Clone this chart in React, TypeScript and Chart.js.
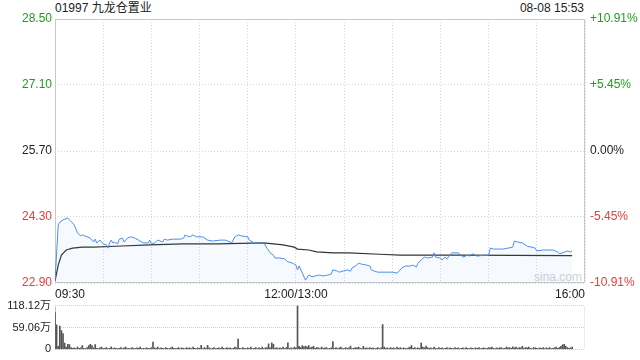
import React, { useEffect, useRef } from "react";
import { Chart, registerables } from "chart.js";

Chart.register(...registerables);

const titleText = "01997 九龙仓置业";
const stampText = "08-08 15:53";
const watermark = "sina.com";

const prevClose = 25.7;
const priceTicks = [22.9, 24.3, 25.7, 27.1, 28.5];
const pctLabels = ["-10.91%", "-5.45%", "0.00%", "+5.45%", "+10.91%"];

const gridMinutes = [0, 30, 60, 90, 120, 150, 180, 210, 240, 270, 300, 330];
const labelMinutes = [0, 150, 330];
const timeLabels = ["09:30", "12:00/13:00", "16:00"];

// minutes since 09:30 (13:00 continues at 150)
const priceMinutes = [
  0, 2, 3, 5, 8, 9, 11, 12, 14, 16, 17, 20, 22, 24, 25, 26, 28, 29, 30, 32, 33, 34, 35, 36, 37, 39,
  40, 42, 43, 45, 47, 50, 52, 55, 58, 59, 60, 62, 64, 67, 68, 70, 73, 78, 80, 81, 82, 84, 86, 88,
  92, 95, 98, 103, 106, 109, 110, 112, 114, 116, 120, 121, 123, 124, 130, 132, 134, 136, 137, 140,
  143, 145, 148, 150, 151, 152, 154, 156, 158, 160, 162, 164, 167, 170, 172, 173, 176, 177, 179,
  182, 184, 185, 187, 189, 191, 194, 196, 197, 199, 201, 205, 210, 213, 215, 216, 218, 221, 223,
  225, 226, 228, 230, 232, 235, 236, 237, 240, 241, 243, 244, 247, 251, 253, 254, 257, 258, 260,
  263, 267, 270, 271, 273, 276, 279, 282, 285, 286, 288, 291, 294, 297, 299, 300, 304, 310, 313,
  314, 316, 319, 321, 322,
];
const priceValues = [
  22.94, 24.13, 24.19, 24.24, 24.28, 24.24, 24.17, 24.13, 23.96, 23.9, 23.92, 23.88, 23.85, 23.77,
  23.83, 23.75, 23.81, 23.77, 23.73, 23.71, 23.64, 23.75, 23.81, 23.75, 23.77, 23.73, 23.83, 23.85,
  23.77, 23.85, 23.88, 23.85, 23.81, 23.75, 23.75, 23.81, 23.73, 23.75, 23.81, 23.77, 23.83, 23.81,
  23.83, 23.83, 23.85, 23.92, 23.9, 23.88, 23.92, 23.88, 23.88, 23.81, 23.79, 23.81, 23.81, 23.77,
  23.75, 23.88, 23.92, 23.9, 23.88, 23.81, 23.77, 23.75, 23.75, 23.64, 23.54, 23.49, 23.43, 23.43,
  23.41, 23.35, 23.32, 23.28, 23.18, 23.26, 23.11, 22.96, 23.07, 23.03, 23.05, 23.07, 23.05, 23.07,
  23.09, 23.18, 23.15, 23.13, 23.15, 23.18, 23.15, 23.22, 23.26, 23.32, 23.3, 23.28, 23.26, 23.18,
  23.15, 23.13, 23.13, 23.13, 23.11, 23.18, 23.22, 23.26, 23.26, 23.28, 23.24, 23.32, 23.39, 23.45,
  23.43, 23.45, 23.54, 23.45, 23.43, 23.39, 23.45, 23.41, 23.54, 23.54, 23.49, 23.45, 23.49, 23.47,
  23.52, 23.47, 23.49, 23.49, 23.64, 23.62, 23.62, 23.62, 23.64, 23.66, 23.79, 23.77, 23.75, 23.68,
  23.66, 23.64, 23.58, 23.6, 23.6, 23.56, 23.52, 23.54, 23.58, 23.56, 23.58,
];

const avgMinutes = [0, 2, 4, 7, 11, 17, 24, 38, 59, 80, 101, 130, 142, 149, 151, 158, 163, 173, 183, 202, 215, 250, 322];
const avgValues = [
  22.94, 23.28, 23.49, 23.6, 23.64, 23.66, 23.66, 23.68, 23.71, 23.73, 23.73, 23.75, 23.71, 23.66,
  23.62, 23.6, 23.56, 23.54, 23.54, 23.51, 23.49, 23.49, 23.48,
];

// volume per minute, in 万 shares (index = minute since 09:30)
const volumeValues = [
  99, 66, 8, 63, 51, 43, 17, 6, 14, 13, 5, 3, 4, 2, 6, 3, 4, 10, 3, 2,
  5, 10, 14, 10, 4, 13, 3, 2, 4, 6, 2, 3, 5, 2, 3, 7, 2, 4, 3, 2,
  3, 5, 2, 4, 6, 2, 3, 2, 5, 3, 2, 4, 3, 6, 2, 3, 2, 4, 3, 2,
  5, 20, 4, 3, 6, 2, 4, 3, 2, 5, 3, 2, 4, 6, 3, 2, 3, 5, 2, 4,
  3, 2, 5, 3, 4, 2, 6, 3, 2, 4, 3, 11, 2, 5, 3, 11, 4, 2, 3, 5,
  2, 3, 4, 2, 6, 3, 2, 5, 3, 4, 2, 3, 6, 4, 28, 3, 2, 5, 3, 2,
  4, 3, 6, 2, 3, 5, 2, 4, 3, 6, 2, 4, 5, 15, 4, 18, 14, 3, 5, 2,
  4, 3, 6, 2, 5, 18, 3, 4, 2, 6, 4, 118.12, 8, 5, 10, 7, 9, 6, 10, 4,
  6, 8, 3, 5, 4, 2, 6, 3, 4, 5, 2, 3, 4, 21, 3, 5, 2, 4, 6, 3,
  2, 5, 3, 4, 9, 2, 3, 5, 4, 6, 3, 2, 8, 3, 4, 2, 5, 3, 4, 2,
  3, 5, 2, 4, 67, 6, 3, 4, 2, 5, 3, 4, 2, 6, 3, 5, 2, 4, 3, 2,
  4, 6, 10, 3, 5, 2, 4, 3, 17, 6, 4, 9, 5, 3, 4, 2, 6, 3, 2, 5,
  3, 4, 2, 3, 5, 2, 4, 3, 2, 5, 3, 4, 2, 3, 4, 2, 5, 3, 2, 4,
  3, 2, 4, 3, 5, 2, 3, 4, 2, 3, 5, 4, 6, 3, 2, 4, 3, 5, 4, 2,
  3, 6, 4, 5, 3, 7, 4, 6, 3, 5, 4, 8, 3, 5, 4, 6, 3, 2, 5, 4,
  3, 2, 4, 3, 5, 2, 4, 3, 5, 2, 3, 4, 6, 3, 5, 8, 12, 14, 9, 5, 3, 4, 6,
];
const volumeTicks = [0, 59.06, 118.12];
const volumeLabels = ["0", "59.06万", "118.12万"];

const GREEN = "#1f9e1f";
const RED = "#e83c3c";
const BLACK = "#222";
const FONT = "'Liberation Sans', Arial, 'Noto Sans CJK SC', sans-serif";

const framePlugin = {
  id: "frame",
  beforeDatasetsDraw(chart: any, _args: any, opts: any) {
    const { ctx, chartArea } = chart;
    ctx.save();
    ctx.strokeStyle = opts.color || "#c8c8c8";
    ctx.lineWidth = 1;
    ctx.setLineDash([]);
    const l = Math.round(chartArea.left) + 0.5;
    const r = Math.round(chartArea.right) - 0.5;
    const t = Math.round(chartArea.top) + 0.5;
    const b = Math.round(chartArea.bottom) - 0.5;
    ctx.beginPath();
    if (opts.full) {
      ctx.rect(l, t, r - l, b - t);
    } else {
      ctx.moveTo(l, t);
      ctx.lineTo(l, b);
    }
    ctx.stroke();
    if (!opts.full) {
      ctx.strokeStyle = "#d8d8d8";
      ctx.setLineDash([1, 1]);
      ctx.beginPath();
      ctx.moveTo(r, t);
      ctx.lineTo(r, b);
      ctx.stroke();
    }
    ctx.restore();
  },
};

function colorForPrice(v: number) {
  if (Math.abs(v - prevClose) < 0.001) return BLACK;
  return v > prevClose ? GREEN : RED;
}

export default function App() {
  const mainRef = useRef<HTMLCanvasElement>(null);
  const volRef = useRef<HTMLCanvasElement>(null);

  useEffect(() => {
    const priceData = priceMinutes.map((m, i) => ({ x: m, y: priceValues[i] }));
    const avgData = avgMinutes.map((m, i) => ({ x: m, y: avgValues[i] }));

    const main = new Chart(mainRef.current as HTMLCanvasElement, {
      type: "line",
      data: {
        datasets: [
          {
            data: priceData,
            borderColor: "#4d8ef0",
            borderWidth: 1,
            pointRadius: 0,
            fill: "start",
            backgroundColor: "rgba(77,142,240,0.05)",
            tension: 0,
            yAxisID: "y",
          },
          {
            data: avgData,
            borderColor: "#333",
            borderWidth: 1.2,
            pointRadius: 0,
            fill: false,
            tension: 0,
            yAxisID: "y",
          },
        ],
      },
      options: {
        responsive: false,
        animation: false,
        events: [],
        layout: { padding: { top: 19, left: 0, right: 0, bottom: 0 } },
        plugins: {
          legend: { display: false },
          tooltip: { enabled: false },
          frame: { full: true, color: "#c8c8c8" },
        } as any,
        scales: {
          x: {
            type: "linear",
            min: 0,
            max: 330,
            offset: false,
            afterBuildTicks: (s: any) => {
              s.ticks = gridMinutes.map((v) => ({ value: v }));
            },
            afterFit: (s: any) => {
              s.height = 17;
            },
            ticks: {
              autoSkip: false,
              maxRotation: 0,
              align: "inner",
              padding: 4,
              color: "#222",
              font: { family: FONT, size: 12 },
              callback: (v: any) => {
                const k = labelMinutes.indexOf(Number(v));
                return k >= 0 ? timeLabels[k] : "";
              },
            },
            grid: { color: "#d6d6d6", drawTicks: false, lineWidth: 1 },
            border: { display: false, dash: [1, 2] },
          },
          y: {
            type: "linear",
            position: "left",
            min: 22.9,
            max: 28.5,
            afterBuildTicks: (s: any) => {
              s.ticks = priceTicks.map((v) => ({ value: v }));
            },
            afterFit: (s: any) => {
              s.width = 55;
            },
            ticks: {
              padding: 3,
              font: { family: FONT, size: 12 },
              color: (c: any) => colorForPrice(priceTicks[c.index]),
              callback: (_v: any, i: number) => priceTicks[i].toFixed(2),
            },
            grid: { color: "#d6d6d6", drawTicks: false, lineWidth: 1 },
            border: { display: false, dash: [1, 2] },
          },
          y2: {
            type: "linear",
            position: "right",
            min: 22.9,
            max: 28.5,
            afterBuildTicks: (s: any) => {
              s.ticks = priceTicks.map((v) => ({ value: v }));
            },
            afterFit: (s: any) => {
              s.width = 55;
            },
            ticks: {
              padding: 5,
              font: { family: FONT, size: 12 },
              color: (c: any) => colorForPrice(priceTicks[c.index]),
              callback: (_v: any, i: number) => pctLabels[i],
            },
            grid: { display: false, drawTicks: false },
            border: { display: false },
          },
        },
      },
      plugins: [framePlugin],
    });

    const volData = volumeValues.map((v, i) => ({ x: i, y: v }));
    const vol = new Chart(volRef.current as HTMLCanvasElement, {
      type: "bar",
      data: {
        datasets: [
          {
            data: volData,
            backgroundColor: "#555",
            barThickness: 1,
            borderWidth: 0,
          },
        ],
      },
      options: {
        responsive: false,
        animation: false,
        events: [],
        layout: { padding: { top: 10, left: 0, right: 55, bottom: 7 } },
        plugins: {
          legend: { display: false },
          tooltip: { enabled: false },
          frame: { full: false, color: "#c0c0c0" },
        } as any,
        scales: {
          x: {
            type: "linear",
            min: 0,
            max: 330,
            offset: false,
            display: false,
          },
          y: {
            type: "linear",
            min: 0,
            max: 118.12,
            afterBuildTicks: (s: any) => {
              s.ticks = volumeTicks.map((v) => ({ value: v }));
            },
            afterFit: (s: any) => {
              s.width = 55;
            },
            ticks: {
              padding: 4,
              color: "#222",
              font: { family: FONT, size: 11 },
              callback: (_v: any, i: number) => volumeLabels[i],
            },
            grid: { color: "#d0d0d0", drawTicks: false, lineWidth: 1 },
            border: { display: false, dash: [1, 1] },
          },
        },
      },
      plugins: [framePlugin],
    });

    return () => {
      main.destroy();
      vol.destroy();
    };
  }, []);

  return (
    <div
      style={{
        position: "absolute",
        left: 0,
        top: 0,
        width: 640,
        height: 360,
        background: "#fff",
        overflow: "hidden",
        fontFamily: FONT,
      }}
    >
      <div style={{ position: "absolute", left: 55, top: 1, fontSize: 12, lineHeight: "14px", color: "#222" }}>
        {titleText}
      </div>
      <div style={{ position: "absolute", right: 56, top: 1, fontSize: 12, lineHeight: "14px", color: "#222" }}>
        {stampText}
      </div>
      <div
        style={{ position: "absolute", right: 58, top: 270, fontSize: 12, lineHeight: "14px", color: "#d2d2d2" }}
      >
        {watermark}
      </div>
      <canvas
        ref={mainRef}
        width={640}
        height={300}
        style={{ position: "absolute", left: 0, top: 0, width: 640, height: 300, display: "block" }}
      />
      <canvas
        ref={volRef}
        width={640}
        height={65}
        style={{ position: "absolute", left: 0, top: 295, width: 640, height: 65, display: "block" }}
      />
    </div>
  );
}
